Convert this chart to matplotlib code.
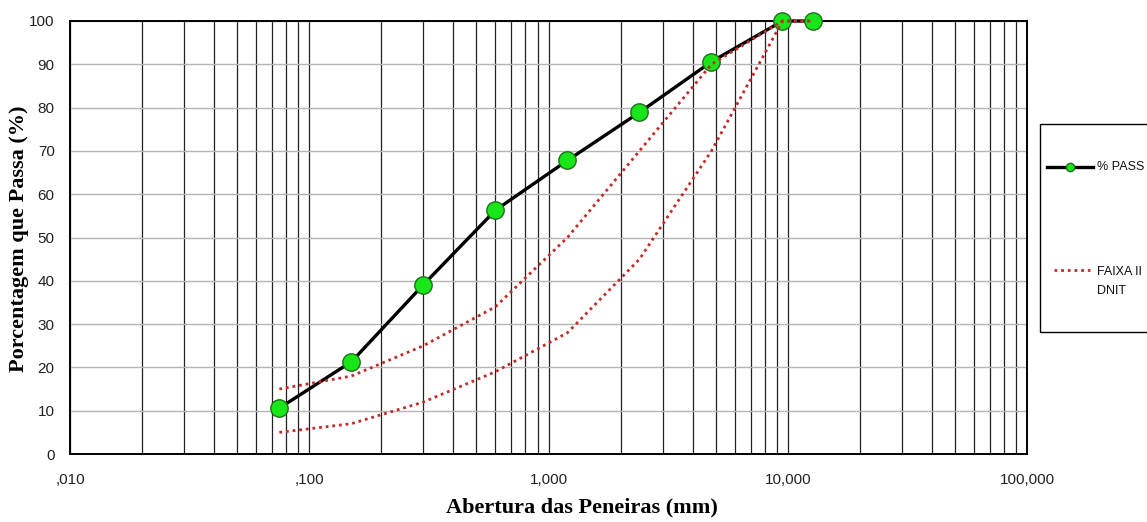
import numpy as np
import matplotlib.pyplot as plt
from matplotlib.lines import Line2D
from matplotlib.patches import Rectangle
from matplotlib.ticker import FixedLocator, FixedFormatter, LogLocator, NullFormatter

# peneiras (mm) e % passante
abertura = [0.075, 0.15, 0.3, 0.6, 1.2, 2.4, 4.8, 9.5, 12.7]
passante = [10.6, 21.3, 39.1, 56.3, 67.8, 78.9, 90.6, 100, 100]

# faixa II DNIT (limites)
faixa_min = [5, 7, 12, 19, 28, 45, 70, 100, 100]
faixa_max = [15, 18, 25, 34, 50, 70, 90, 100, 100]

x_ticks = [0.01, 0.1, 1, 10, 100]
x_labels = [',010', ',100', '1,000', '10,000', '100,000']
y_ticks = list(range(0, 101, 10))

narrow = ['Liberation Sans Narrow', 'Liberation Sans', 'DejaVu Sans']
serif = ['Liberation Serif', 'DejaVu Serif']

W, H = 1147, 522
fig = plt.figure(figsize=(W / 100, H / 100), dpi=100)
ax = fig.add_axes([70 / W, 1 - 454 / H, (1027 - 70) / W, (454 - 21) / H])

verde = '#19e619'
verde_borda = '#1f6f1f'
vermelho = '#c42a2a'

ax.plot(abertura, passante, color='black', linewidth=2.4, marker='o',
        markersize=12.5, markerfacecolor=verde, markeredgecolor=verde_borda,
        markeredgewidth=1.0, zorder=3, clip_on=False)
ax.plot(abertura, faixa_max, color=vermelho, linewidth=2.0,
        linestyle=(0, (1, 1.4)), zorder=4, clip_on=False)
ax.plot(abertura, faixa_min, color=vermelho, linewidth=2.0,
        linestyle=(0, (1, 1.4)), zorder=4, clip_on=False)

ax.set_xscale('log')
ax.set_xlim(0.01, 100)
ax.set_ylim(0, 100)
ax.xaxis.set_major_locator(FixedLocator(x_ticks))
ax.xaxis.set_major_formatter(FixedFormatter(x_labels))
ax.xaxis.set_minor_locator(LogLocator(base=10, subs=np.arange(2, 10)))
ax.xaxis.set_minor_formatter(NullFormatter())
ax.set_yticks(y_ticks)

ax.grid(True, which='both', axis='x', color='#222222', linewidth=0.9)
ax.grid(True, which='major', axis='y', color='#b4b4b4', linewidth=1.0)
ax.set_axisbelow(True)

ax.tick_params(axis='both', which='both', length=0)
ax.tick_params(axis='x', pad=14)
ax.tick_params(axis='y', pad=11)
for lab in ax.get_xticklabels() + ax.get_yticklabels():
    lab.set_family(narrow)
    lab.set_fontsize(11)
    lab.set_color('#222222')

for s in ax.spines.values():
    s.set_color('black')
    s.set_linewidth(1.4)

fig.text(19 / W, 1 - 239 / H, 'Porcentagem que Passa (%)', rotation=90,
         ha='center', va='center', fontsize=16, fontweight='bold', family=serif)
fig.text(582 / W, 1 - 507 / H, 'Abertura das Peneiras (mm)',
         ha='center', va='center', fontsize=16, fontweight='bold', family=serif)

# legenda (caixa cortada na borda direita)
def fx(px):
    return px / W

def fy(py):
    return 1 - py / H

fig.patches.append(Rectangle((fx(1040), fy(332)), fx(1170) - fx(1040),
                             fy(124) - fy(332), transform=fig.transFigure,
                             facecolor='white', edgecolor='black', linewidth=1.0))
fig.lines.append(Line2D([fx(1047), fx(1093)], [fy(167), fy(167)],
                        transform=fig.transFigure, color='black', linewidth=2.4))
fig.lines.append(Line2D([fx(1070)], [fy(167)], transform=fig.transFigure,
                        marker='o', markersize=6, markerfacecolor=verde,
                        markeredgecolor=verde_borda, linestyle='none'))
fig.lines.append(Line2D([fx(1054), fx(1090)], [fy(270), fy(270)],
                        transform=fig.transFigure, color=vermelho, linewidth=2.0,
                        linestyle=(0, (1, 1.4))))
fig.text(fx(1097), fy(167), '% PASS', ha='left', va='center', fontsize=9,
         family=narrow, color='#111111')
fig.text(fx(1097), fy(272), 'FAIXA II', ha='left', va='center', fontsize=9,
         family=narrow, color='#111111')
fig.text(fx(1097), fy(291), 'DNIT', ha='left', va='center', fontsize=9,
         family=narrow, color='#111111')

fig.savefig('out.png', dpi=100)
